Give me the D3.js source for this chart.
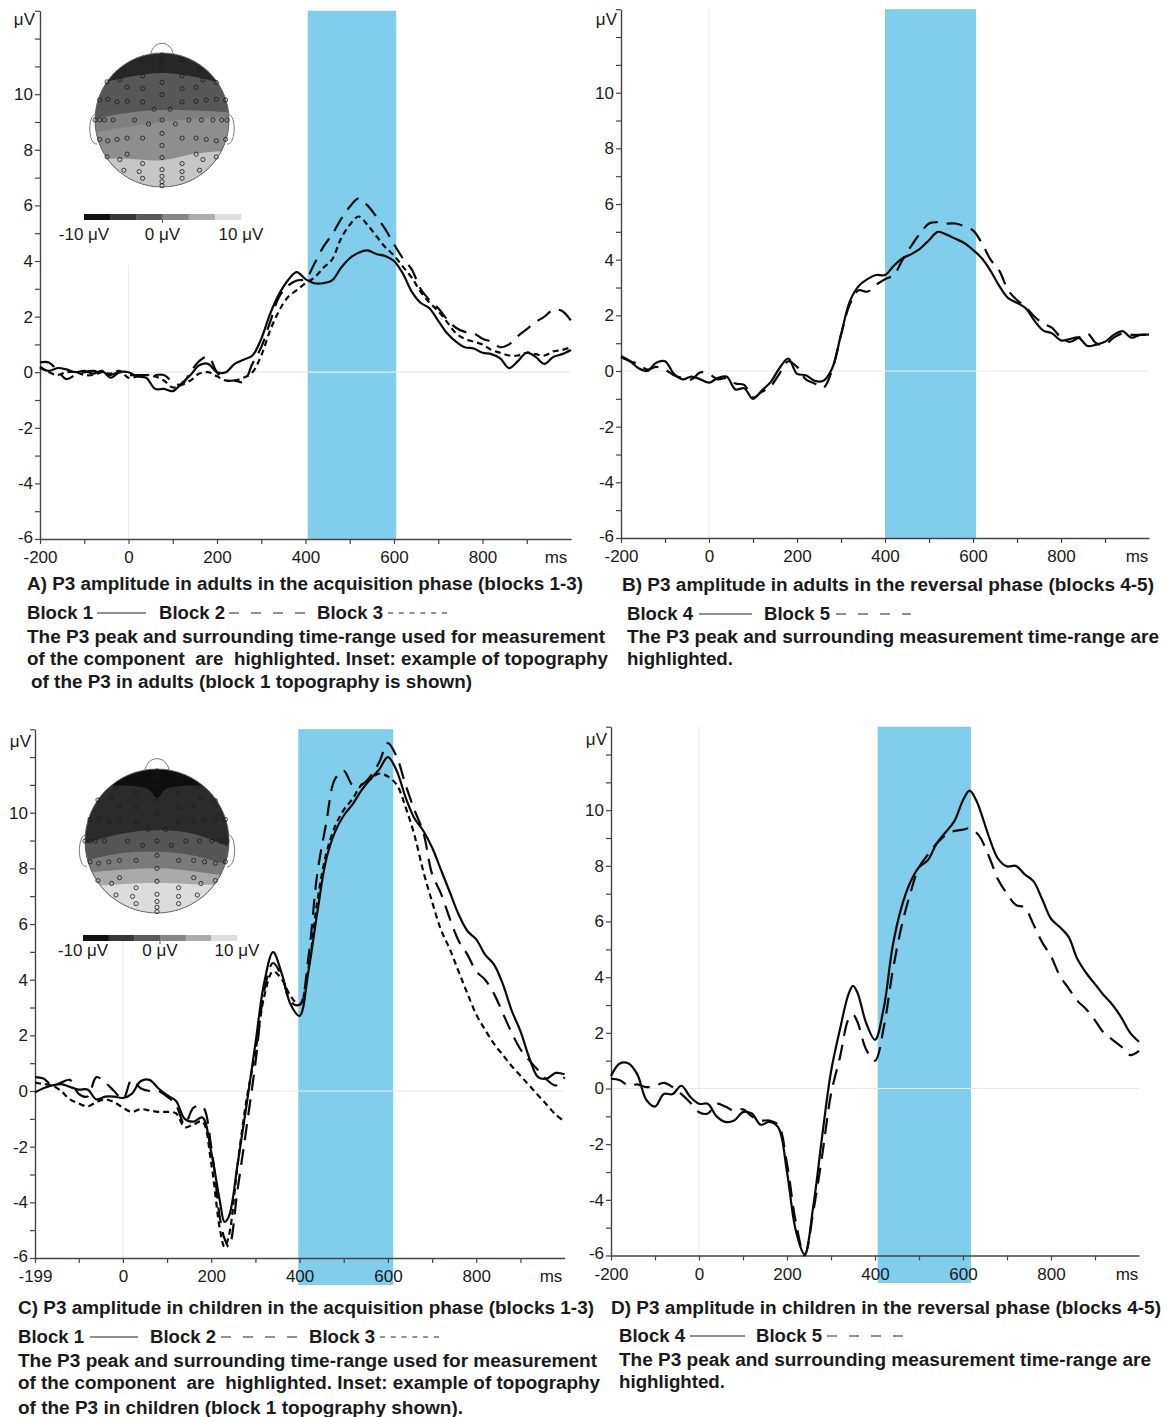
<!DOCTYPE html>
<html><head><meta charset="utf-8">
<script src="https://cdn.jsdelivr.net/npm/d3@7"></script>
<style>
body{margin:0;background:#fff}
svg{display:block}
text{font-family:"Liberation Sans",Arial,Helvetica,sans-serif;fill:#1a1a1a}
text.cap{white-space:pre}
</style>
</head><body>
<svg id="chart" width="1171" height="1417"></svg>
<script>
// ================= DATA =================
const timesAB = [-200,-180,-160,-140,-120,-100,-80,-60,-40,-20,0,20,40,60,80,100,120,140,160,180,200,220,240,260,280,300,320,340,360,380,400,420,440,460,480,500,520,540,560,580,600,620,640,660,680,700,720,740,760,780,800,820,840,860,880,900,920,940,960,980,1000];
const adultAcqBlock1 = [0.15,0.05,0.15,0.1,0.0,0.05,-0.05,0.05,-0.2,0.0, 0.0,-0.15,-0.2,-0.6,-0.6,-0.68,-0.4,-0.1,0.25,0.3, 0.0,0.0,0.3,0.45,0.6,1.2,2.1,2.8,3.3,3.6, 3.35,3.2,3.2,3.3,3.75,4.1,4.3,4.38,4.25,4.18, 4.0,3.55,2.9,2.5,2.3,1.85,1.4,1.1,0.9,0.85, 0.7,0.65,0.5,0.15,0.4,0.7,0.55,0.3,0.55,0.65, 0.8];
const adultAcqBlock2 = [0.35,0.35,0.05,-0.25,-0.1,0.0,0.05,-0.05,-0.1,0.0, -0.1,-0.1,-0.1,-0.1,-0.1,-0.35,-0.45,0.0,0.4,0.55, 0.0,-0.3,-0.3,-0.35,0.3,0.9,1.8,2.7,3.1,3.3, 3.35,3.9,4.5,4.95,5.5,5.95,6.25,6.0,5.6,5.15, 4.6,4.1,3.7,3.0,2.6,2.3,1.9,1.6,1.45,1.4, 1.2,1.1,0.9,1.0,1.3,1.55,1.8,2.0,2.25,2.2, 1.85];
const adultAcqBlock3 = [0.2,0.0,-0.1,0.0,0.0,-0.1,-0.1,0.0,-0.05,0.05, -0.2,-0.15,-0.1,-0.15,-0.3,-0.55,-0.45,-0.3,-0.05,0.0, -0.15,-0.3,-0.3,-0.2,0.0,0.6,1.5,2.2,2.7,2.95, 3.2,3.4,3.75,4.05,4.8,5.3,5.6,5.3,4.9,4.5, 4.2,3.8,3.4,2.9,2.5,2.2,1.8,1.4,1.2,1.1, 1.0,0.8,0.7,0.6,0.6,0.7,0.65,0.6,0.75,0.8, 0.9];
const adultRevBlock4 = [0.54,0.36,0.1,0.0,0.3,0.35,-0.1,-0.3,-0.2,-0.3, -0.42,-0.25,-0.2,-0.66,-0.62,-1.0,-0.7,-0.4,0.1,0.45, -0.1,-0.15,-0.35,-0.35,0.1,1.3,2.5,3.05,3.3,3.45, 3.45,3.78,4.05,4.2,4.4,4.7,5.0,4.9,4.75,4.6, 4.35,4.05,3.6,3.05,2.62,2.45,2.25,1.8,1.45,1.35, 1.1,1.15,1.2,0.9,0.95,1.05,1.3,1.43,1.2,1.3, 1.31];
const adultRevBlock5 = [0.5,0.35,0.25,0.05,0.15,0.05,-0.15,-0.25,-0.3,-0.05, -0.1,-0.3,-0.25,-0.45,-0.5,-0.95,-0.75,-0.55,-0.1,0.35, 0.15,-0.3,-0.45,-0.6,0.05,1.3,2.4,2.9,2.85,3.1, 3.3,3.45,4.0,4.5,4.95,5.3,5.35,5.3,5.3,5.2, 5.05,4.6,4.0,3.6,2.9,2.55,2.3,1.95,1.7,1.55, 1.2,1.05,1.2,1.35,1.0,0.95,1.2,1.35,1.3,1.3, 1.3];

const timesC = [-199,-180,-160,-140,-120,-100,-80,-60,-40,-20,0,20,40,60,80,100,120,140,160,180,200,220,230,240,260,280,300,320,340,360,380,400,420,440,460,480,500,520,540,560,580,600,620,640,660,680,700,720,740,760,780,800,820,840,860,880,900,920,940,960,980,1000];
const childAcqBlock1 = [-0.05,0.1,0.2,0.25,0.15,0.05,0.05,-0.3,-0.2,-0.2, -0.25,-0.1,0.35,0.4,0.1,-0.15,-0.35,-1.0,-1.1,-0.95, -2.2,-4.0,-4.7,-4.5,-2.6,-0.5,1.7,3.9,4.99,4.2, 3.1,2.7,4.3,6.4,8.3,9.3,9.9,10.3,10.8,11.2, 11.55,12.0,11.5,10.55,9.8,9.35,8.75,7.95,7.15,6.35, 5.75,5.45,4.9,4.55,3.85,2.9,2.15,1.2,0.5,0.45, 0.65,0.6];
const childAcqBlock2 = [0.5,0.45,0.2,0.3,0.4,-0.1,-0.2,0.5,0.3,0.0, -0.3,0.4,0.1,0.0,0.0,-0.2,-0.5,-1.2,-0.6,-0.55, -2.0,-4.6,-5.3,-5.6,-3.5,-1.3,1.0,3.6,4.6,4.1, 3.2,3.1,4.8,7.8,9.6,11.2,11.5,11.0,11.0,11.3, 11.8,12.5,12.0,11.0,10.1,9.3,7.8,7.1,6.2,5.4, 4.9,4.3,4.0,3.5,2.8,2.1,1.5,1.1,0.75,0.4, 0.2,0.5];
const childAcqBlock3 = [0.3,0.25,0.2,0.0,-0.3,-0.45,-0.55,-0.4,-0.3,-0.4, -0.6,-0.75,-0.65,-0.7,-0.75,-0.75,-0.8,-1.3,-1.2,-1.1, -2.6,-5.0,-5.6,-5.2,-2.6,-0.3,1.4,3.4,4.3,4.0, 3.4,3.1,4.4,6.8,8.5,9.5,10.1,10.5,11.0,11.2, 11.4,11.3,11.0,10.2,9.2,7.9,6.8,5.8,5.1,4.3, 3.5,2.75,2.2,1.7,1.3,0.9,0.55,0.2,-0.15,-0.5, -0.85,-1.1];

const timesD = [-200,-180,-160,-140,-120,-100,-80,-60,-40,-20,0,20,40,60,80,100,120,140,160,180,200,220,240,260,280,300,320,340,350,360,380,400,420,440,460,480,500,520,540,560,580,600,615,630,640,660,680,700,720,740,760,780,800,820,840,860,880,900,920,940,960,980,1000];
const childRevBlock4 = [0.45,0.9,0.9,0.5,-0.4,-0.65,-0.2,-0.2,0.1,-0.3, -0.55,-0.55,-1.0,-1.2,-1.15,-0.85,-0.9,-1.3,-1.2,-1.4, -3.0,-5.1,-5.95,-4.2,-1.7,0.6,2.1,3.4,3.69,3.45, 2.35,1.75,2.9,5.1,6.5,7.4,7.95,8.2,8.8,9.2, 9.6,10.36,10.7,10.36,9.95,9.0,8.25,7.98,8.0,7.7, 7.45,6.8,6.1,5.8,5.45,4.65,4.15,3.75,3.35,3.0, 2.55,2.0,1.68];
const childRevBlock5 = [0.35,0.3,0.1,0.15,0.05,0.1,0.2,0.05,-0.2,-0.5, -0.85,-0.9,-0.55,-0.65,-0.8,-0.75,-1.0,-1.15,-1.15,-1.3, -2.7,-4.8,-6.0,-4.4,-2.4,-0.2,1.1,2.5,2.65,2.4, 1.4,1.0,2.2,4.2,5.8,7.0,7.95,8.4,8.8,9.1, 9.25,9.3,9.35,9.2,9.0,8.3,7.5,7.0,6.6,6.5, 5.9,5.25,4.75,4.05,3.6,3.15,2.85,2.45,2.0,1.75, 1.5,1.2,1.35];

const yTicks = [-6,-5,-4,-3,-2,-1,0,1,2,3,4,5,6,7,8,9,10,11,12,13];
const yTickLabels = [-6,-4,-2,0,2,4,6,8,10];
const xTicksAB = [-200,-100,0,100,200,300,400,500,600,700,800,900];
const xTickLabelsAB = [-200,0,200,400,600,800];
const xTicksC = [-199,-100,0,100,200,300,400,500,600,700,800,900];
const xTickLabelsC = [-199,0,200,400,600,800];
const measureWindowA = [405,605];
const measureWindowB = [400,607];
const measureWindowC = [397,612];
const measureWindowD = [406,618];

const colorbarLabels = ['-10 μV','0 μV','10 μV'];
const colorbarShades = ['#111111','#363636','#5a5a5a','#868686','#adadad','#dedede'];

// electrode positions (normalised head coordinates)
const electrodes = [[0,-0.97],[0,-0.88],[-0.29,-0.9],[0.3,-0.9],
[-0.57,-0.75],[-0.29,-0.66],[0,-0.76],[0.3,-0.66],[0.56,-0.75],
[-0.82,-0.57],[-0.63,-0.6],[-0.52,-0.49],[-0.29,-0.47],[0,-0.56],[0.3,-0.47],[0.51,-0.49],[0.61,-0.6],[0.81,-0.56],
[-0.93,-0.3],[-0.81,-0.31],[-0.67,-0.27],[-0.52,-0.28],[-0.29,-0.27],[0,-0.38],[0.3,-0.27],[0.51,-0.28],[0.66,-0.3],[0.81,-0.31],[0.95,-0.3],
[-0.12,-0.16],[0.12,-0.16],
[-1.0,0],[-0.93,0],[-0.86,0],[-0.73,0],[-0.41,0],[-0.2,0.06],[0,0],[0.2,0.06],[0.4,0],[0.59,0],[0.76,0],[0.89,0],[0.97,0],
[-0.93,0.29],[-0.81,0.31],[-0.67,0.29],[-0.52,0.27],[-0.29,0.27],[0,0.2],[0.3,0.27],[0.51,0.27],[0.66,0.29],[0.81,0.31],[0.95,0.29],
[0,0.38],
[-0.82,0.55],[-0.63,0.59],[-0.52,0.51],[-0.29,0.65],[0,0.56],[0.3,0.65],[0.51,0.51],[0.61,0.59],[0.81,0.55],
[-0.57,0.75],[-0.34,0.77],[0,0.74],[0.3,0.77],[0.56,0.75],
[-0.29,0.87],[0,0.84],[0,0.92],[0.3,0.87],[0,0.98]];

// topography band boundaries (normalised) and shades
const topoAdultBounds = [
  [[-1.2,-0.48],[-0.5,-0.64],[0,-0.7],[0.5,-0.64],[1.2,-0.46]],
  [[-1.2,0.02],[-0.5,-0.11],[0,-0.15],[0.5,-0.14],[1.2,-0.1]],
  [[-1.2,0.22],[-0.5,0.1],[0,0.03],[0.5,-0.02],[1.2,-0.06]],
  [[-1.2,0.56],[-0.5,0.58],[0,0.6],[0.5,0.5],[1.2,0.44]]];
const topoAdultShades = ['#272727','#575757','#7f7f7f','#8e8e8e','#c6c6c6'];
const topoChildBounds = [
  [[-1.2,-0.77],[-0.3,-0.76],[-0.12,-0.72],[0,-0.6],[0.12,-0.72],[0.3,-0.76],[1.2,-0.77]],
  [[-1.2,0.1],[-0.5,-0.1],[0,-0.15],[0.5,-0.1],[1.2,0.17]],
  [[-1.2,0.32],[-0.5,0.17],[0,0.15],[0.5,0.2],[1.2,0.4]],
  [[-1.2,0.46],[-0.5,0.4],[0,0.38],[0.5,0.42],[1.2,0.52]],
  [[-1.2,0.64],[-0.5,0.6],[0,0.58],[0.5,0.6],[1.2,0.62]]];
const topoChildShades = ['#0e0e0e','#2b2b2b','#555555','#7a7a7a','#a9a9a9','#dcdcdc'];

// captions
const captionsA = [
  {t:'A) P3 amplitude in adults in the acquisition phase (blocks 1-3)', x:27, y:590, w:556},
  {t:'The P3 peak and surrounding time-range used for measurement', x:27, y:643, w:578},
  {t:'of the component  are  highlighted. Inset: example of topography', x:27, y:665, w:581},
  {t:'of the P3 in adults (block 1 topography is shown)', x:31, y:688, w:441}];
const captionsB = [
  {t:'B) P3 amplitude in adults in the reversal phase (blocks 4-5)', x:622, y:591, w:532},
  {t:'The P3 peak and surrounding measurement time-range are', x:627, y:643, w:532},
  {t:'highlighted.', x:627, y:665, w:106}];
const captionsC = [
  {t:'C) P3 amplitude in children in the acquisition phase (blocks 1-3)', x:18, y:1314, w:576},
  {t:'The P3 peak and surrounding time-range used for measurement', x:18, y:1367, w:579},
  {t:'of the component  are  highlighted. Inset: example of topography', x:18, y:1389, w:582},
  {t:'of the P3 in children (block 1 topography shown).', x:18, y:1414, w:445}];
const captionsD = [
  {t:'D) P3 amplitude in children in the reversal phase (blocks 4-5)', x:611, y:1314, w:550},
  {t:'The P3 peak and surrounding measurement time-range are', x:619, y:1366, w:532},
  {t:'highlighted.', x:619, y:1388, w:106}];

// ================= DRAW =================
const svg = d3.select('#chart');
const defs = svg.append('defs');
const BLUE = '#80cdec';

const panels = [
  {key:'A', xr:[40,571], yr:[539,10.8], xd:[-200,1000], xt:xTicksAB, xl:xTickLabelsAB, band:measureWindowA, bandBottom:539, gridTop:3.85, times:timesAB,
   series:[[adultAcqBlock1,null],[adultAcqBlock2,'16,9'],[adultAcqBlock3,'6,4']], ms:[556,563], uv:[35,25]},
  {key:'B', xr:[621,1149], yr:[538,9.2], xd:[-200,1000], xt:xTicksAB, xl:xTickLabelsAB, band:measureWindowB, bandBottom:538, gridTop:13, times:timesAB,
   series:[[adultRevBlock4,null],[adultRevBlock5,'16,9']], ms:[1137,562], uv:[617,25]},
  {key:'C', xr:[35,564.6], yr:[1258,729.2], xd:[-199,1000], xt:xTicksC, xl:xTickLabelsC, band:measureWindowC, bandBottom:1285, gridTop:5.6, times:timesC,
   series:[[childAcqBlock1,null],[childAcqBlock2,'16,9'],[childAcqBlock3,'6,4']], ms:[551,1282], uv:[31,747]},
  {key:'D', xr:[611,1139], yr:[1255.5,726.7], xd:[-200,1000], xt:xTicksAB, xl:xTickLabelsAB, band:measureWindowD, bandBottom:1283, gridTop:13, times:timesD,
   series:[[childRevBlock4,null],[childRevBlock5,'16,9']], ms:[1127,1280], uv:[607,745]}
];

function drawPanel(p){
  const g = svg.append('g');
  const x = d3.scaleLinear().domain(p.xd).range(p.xr);
  const y = d3.scaleLinear().domain([-6,13]).range(p.yr);
  p.x = x; p.y = y; p.g = g;
  g.append('rect').attr('x', x(p.band[0])).attr('width', x(p.band[1]) - x(p.band[0]))
    .attr('y', y(13)).attr('height', p.bandBottom - y(13)).attr('fill', BLUE);
  g.append('line').attr('x1', p.xr[0]).attr('x2', p.xr[1]).attr('y1', y(0)).attr('y2', y(0))
    .attr('stroke', '#e9e9e9').attr('stroke-width', 1.2);
  g.append('line').attr('x1', x(0)).attr('x2', x(0)).attr('y1', y(p.gridTop)).attr('y2', y(-6))
    .attr('stroke', '#ececec').attr('stroke-width', 1.2);
  const ax = g.append('g').attr('transform', `translate(0,${y(-6)})`)
    .call(d3.axisBottom(x).tickValues(p.xt).tickSize(5).tickSizeOuter(0).tickPadding(7)
      .tickFormat(d => p.xl.includes(d) ? String(d) : ''));
  const ay = g.append('g').attr('transform', `translate(${p.xr[0]},0)`)
    .call(d3.axisLeft(y).tickValues(yTicks).tickSize(5).tickSizeOuter(0).tickPadding(2)
      .tickFormat(d => yTickLabels.includes(d) ? String(d) : ''));
  [ax, ay].forEach(a => {
    a.selectAll('path.domain').attr('stroke', '#444').attr('stroke-width', 1.4);
    a.selectAll('.tick line').attr('stroke', '#444').attr('stroke-width', 1.2);
    a.selectAll('.tick text').attr('font-size', 17).attr('fill', '#1a1a1a')
      .attr('font-family', '"Liberation Sans",Arial,sans-serif');
  });
  // lift the lowest y label a touch so it clears the x labels
  ay.selectAll('.tick text').filter(d => d === -6).attr('dy', '0.2em');
  g.append('text').attr('x', p.ms[0]).attr('y', p.ms[1]).attr('text-anchor', 'middle')
    .attr('font-size', 17).text('ms');
  g.append('text').attr('x', p.uv[0]).attr('y', p.uv[1]).attr('text-anchor', 'end')
    .attr('font-size', 17).text('μV');
}

function drawCurves(p){
  const line = d3.line().x((d,i) => p.x(p.times[i])).y(d => p.y(d))
    .curve(d3.curveCatmullRom.alpha(0.5));
  p.series.forEach(([vals, dash]) => {
    p.g.append('path').attr('d', line(vals)).attr('fill', 'none')
      .attr('stroke', '#0a0a0a').attr('stroke-width', 2.2)
      .attr('stroke-linejoin', 'round')
      .attr('stroke-dasharray', dash);
  });
}

function drawHead(h){
  const g = svg.append('g');
  const cid = 'clip' + h.key;
  defs.append('clipPath').attr('id', cid).append('circle')
    .attr('cx', h.cx).attr('cy', h.cy).attr('r', h.r);
  const px = u => h.cx + u*h.r, py = v => h.cy + v*h.r;
  g.append('path').attr('d', `M${px(-0.17)},${py(-0.975)} C${px(-0.13)},${py(-1.2)} ${px(0.13)},${py(-1.2)} ${px(0.17)},${py(-0.975)}`)
    .attr('fill', '#fff').attr('stroke', '#777').attr('stroke-width', 1);
  [-1, 1].forEach(s => {
    g.append('path').attr('d', `M${px(s*0.99)},${py(-0.08)} C${px(s*1.1)},${py(-0.1)} ${px(s*1.12)},${py(0.36)} ${px(s*0.97)},${py(0.36)}`)
      .attr('fill', '#fff').attr('stroke', '#777').attr('stroke-width', 1);
  });
  const gc = g.append('g').attr('clip-path', `url(#${cid})`);
  gc.append('rect').attr('x', h.cx - h.r).attr('y', h.cy - h.r).attr('width', 2*h.r).attr('height', 2*h.r)
    .attr('fill', h.shades[0]);
  const bl = d3.line().curve(d3.curveCatmullRom.alpha(0.5));
  h.bounds.forEach((b, i) => {
    const pts = b.map(([u,v]) => [px(u), py(v)]);
    gc.append('path').attr('d', bl(pts) + `L${px(1.3)},${py(1.3)}L${px(-1.3)},${py(1.3)}Z`)
      .attr('fill', h.shades[i+1]);
  });
  g.append('circle').attr('cx', h.cx).attr('cy', h.cy).attr('r', h.r)
    .attr('fill', 'none').attr('stroke', '#666').attr('stroke-width', 0.9);
  g.selectAll('circle.el').data(electrodes).enter().append('circle').attr('class', 'el')
    .attr('cx', d => px(d[0])).attr('cy', d => py(d[1])).attr('r', 2.1)
    .attr('fill', 'none').attr('stroke', '#1a1a1a').attr('stroke-width', 0.8);
  const cb = d3.scaleBand().domain(d3.range(colorbarShades.length)).range([h.cb[0], h.cb[1]]);
  g.selectAll('rect.cb').data(colorbarShades).enter().append('rect').attr('class', 'cb')
    .attr('x', (d,i) => cb(i)).attr('width', cb.bandwidth() + 0.3).attr('y', h.cb[2]).attr('height', 6)
    .attr('fill', d => d);
  g.append('line').attr('x1', (h.cb[0]+h.cb[1])/2).attr('x2', (h.cb[0]+h.cb[1])/2)
    .attr('y1', h.cb[2]+6).attr('y2', h.cb[2]+9).attr('stroke', '#555');
  const lx = d3.scaleLinear().domain([0, 2]).range([h.cb[0], h.cb[1]]);
  colorbarLabels.forEach((t, i) => {
    g.append('text').attr('x', lx(i)).attr('y', h.cb[3]).attr('text-anchor', 'middle')
      .attr('font-size', 17).text(t);
  });
}

function drawCaptions(list, legend){
  list.forEach(c => {
    svg.append('text').attr('class', 'cap').attr('x', c.x).attr('y', c.y).attr('font-size', 18).attr('font-weight', 'bold')
      .attr('xml:space', 'preserve')
      .attr('textLength', c.w).attr('lengthAdjust', 'spacingAndGlyphs').text(c.t);
  });
  legend.items.forEach(it => {
    svg.append('text').attr('x', it.x).attr('y', legend.y).attr('font-size', 18).attr('font-weight', 'bold')
      .attr('textLength', 66).attr('lengthAdjust', 'spacingAndGlyphs').text(it.label);
    svg.append('line').attr('x1', it.l[0]).attr('x2', it.l[1]).attr('y1', legend.y - 6).attr('y2', legend.y - 6)
      .attr('stroke', '#222').attr('stroke-width', 1.2).attr('stroke-dasharray', it.dash);
  });
}

panels.forEach(drawPanel);
drawHead({key:'A', cx:162, cy:120, r:67, bounds:topoAdultBounds, shades:topoAdultShades, cb:[84,241,214,240]});
drawHead({key:'C', cx:157, cy:841, r:72, bounds:topoChildBounds, shades:topoChildShades, cb:[83,237,935,956]});
panels.forEach(drawCurves);

drawCaptions(captionsA, {y:619, items:[
  {label:'Block 1', x:27, l:[97,146], dash:null},
  {label:'Block 2', x:159, l:[229,305], dash:'10,12'},
  {label:'Block 3', x:317, l:[388,447], dash:'5,5.8'}]});
drawCaptions(captionsB, {y:620, items:[
  {label:'Block 4', x:627, l:[699,752], dash:null},
  {label:'Block 5', x:764, l:[836,911], dash:'10,12'}]});
drawCaptions(captionsC, {y:1343, items:[
  {label:'Block 1', x:18, l:[90,138], dash:null},
  {label:'Block 2', x:150, l:[221,297], dash:'10,12'},
  {label:'Block 3', x:309, l:[380,440], dash:'5,5.8'}]});
drawCaptions(captionsD, {y:1342, items:[
  {label:'Block 4', x:619, l:[690,745], dash:null},
  {label:'Block 5', x:756, l:[827,903], dash:'10,12'}]});
</script>
</body></html>
